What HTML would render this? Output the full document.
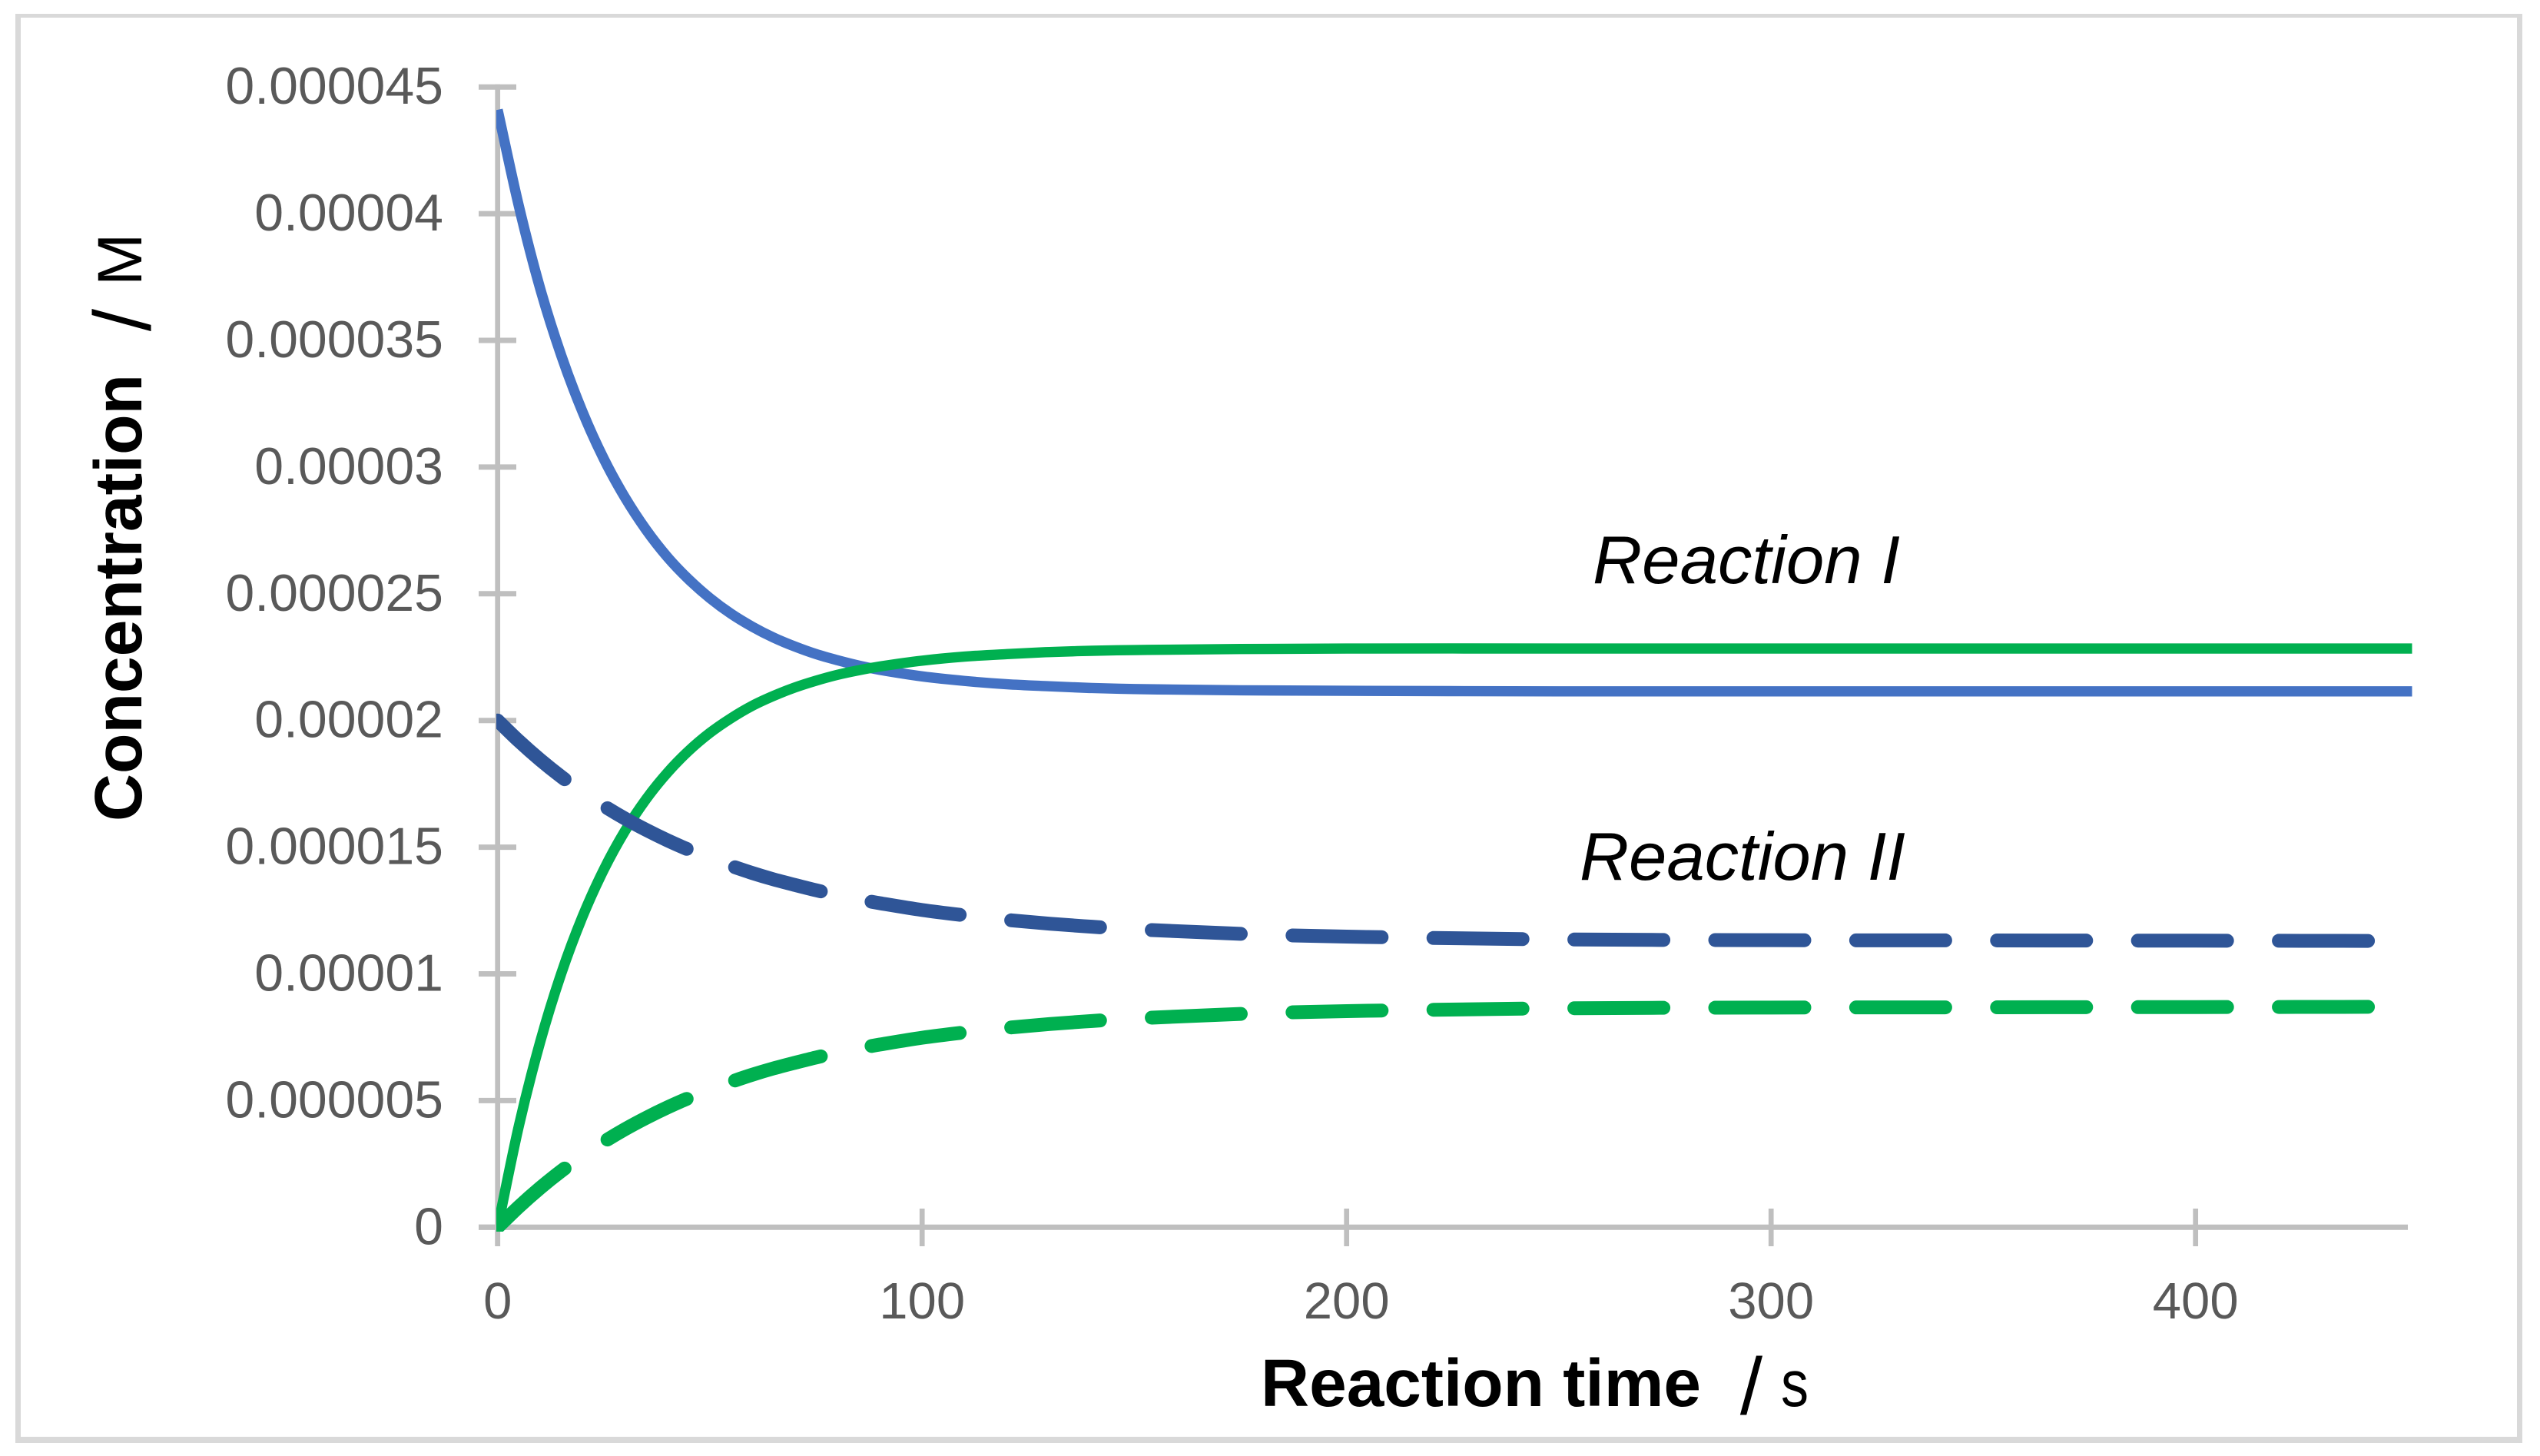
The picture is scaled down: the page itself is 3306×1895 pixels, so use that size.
<!DOCTYPE html>
<html lang="en">
<head>
<meta charset="utf-8">
<title>Reaction concentration over time</title>
<style>
  html, body { margin: 0; padding: 0; background: #ffffff; }
  svg { display: block; }
  text { font-family: "Liberation Sans", sans-serif; }
</style>
</head>
<body>
<svg id="chart" xmlns="http://www.w3.org/2000/svg" width="3306" height="1895" viewBox="0 0 3306 1895">
  <rect x="0" y="0" width="3306" height="1895" fill="#ffffff"/>
  <g fill="#d9d9d9">
    <rect x="20" y="18" width="3263" height="5"/>
    <rect x="20" y="18" width="7" height="1860"/>
    <rect x="20" y="1870" width="3263" height="8"/>
    <rect x="3276" y="18" width="7" height="1860"/>
  </g>
  <defs>
    <clipPath id="plot-clip"><rect x="646" y="140" width="2500" height="1463"/></clipPath>
  </defs>
  <g id="axes"></g>
  <g id="series" clip-path="url(#plot-clip)" fill="none"></g>

  <text x="1641" y="1830" font-size="87" font-weight="700" textLength="573" lengthAdjust="spacingAndGlyphs" fill="#000000">Reaction time</text>
  <text x="2279.5" y="1840.5" font-size="105" font-weight="300" text-anchor="middle" fill="#000000">/</text>
  <text x="2318" y="1830" font-size="85" textLength="36" lengthAdjust="spacingAndGlyphs" fill="#000000">s</text>

  <text transform="translate(184,1069) rotate(-90)" font-size="87" font-weight="700" textLength="582" lengthAdjust="spacingAndGlyphs" fill="#000000">Concentration</text>
  <text transform="translate(195.5,416.5) rotate(-90)" font-size="105" text-anchor="middle" fill="#000000">/</text>
  <text transform="translate(184,372) rotate(-90)" font-size="82" fill="#000000">M</text>

  <text x="2073" y="759" font-size="88" font-style="italic" textLength="400" lengthAdjust="spacingAndGlyphs" fill="#000000">Reaction I</text>
  <text x="2056" y="1145" font-size="88" font-style="italic" textLength="424" lengthAdjust="spacingAndGlyphs" fill="#000000">Reaction II</text>
</svg>
<script>
// Sample times in seconds
const times = [0,5,10,15,20,25,30,35,40,45,50,55,60,65,70,75,80,85,90,100,110,120,130,140,150,175,200,250,300,350,400,451];

// Concentrations in micromolar
const reactionOneBlue = [44.10,40.30,37.06,34.40,32.18,30.33,28.80,27.52,26.45,25.57,24.83,24.21,23.70,23.27,22.92,22.62,22.38,22.17,22.00,21.74,21.56,21.43,21.35,21.28,21.24,21.19,21.17,21.15,21.15,21.15,21.15,21.15];
const reactionOneGreen = [0,4.00,7.30,10.02,12.26,14.11,15.64,16.90,17.94,18.80,19.51,20.09,20.58,20.97,21.30,21.57,21.80,21.98,22.13,22.36,22.52,22.62,22.70,22.75,22.78,22.82,22.84,22.84,22.84,22.84,22.84,22.84];
const reactionTwoBlue = [20,19.19,18.45,17.78,17.18,16.63,16.13,15.68,15.27,14.90,14.56,14.26,13.98,13.73,13.51,13.30,13.11,12.94,12.79,12.52,12.31,12.13,11.98,11.86,11.76,11.58,11.47,11.36,11.33,11.32,11.31,11.30];
const reactionTwoGreen = [0,0.81,1.55,2.22,2.82,3.37,3.87,4.32,4.73,5.10,5.44,5.74,6.02,6.27,6.49,6.70,6.89,7.06,7.21,7.48,7.69,7.87,8.02,8.14,8.24,8.42,8.53,8.64,8.67,8.68,8.69,8.70];

// Axis ticks
const xTickValues = [0,100,200,300,400];
const xTickLabels = ["0","100","200","300","400"];
const yTickValues = [0,5,10,15,20,25,30,35,40,45];
const yTickLabels = ["0","0.000005","0.00001","0.000015","0.00002","0.000025","0.00003","0.000035","0.00004","0.000045"];

const SVG_NS = "http://www.w3.org/2000/svg";
const axes = document.getElementById("axes");
const seriesGroup = document.getElementById("series");

function xScale(t) { return 647.7 + t * 5.525; }
function yScale(v) { return 1597.3 - v * 32.98; }

function make(tag, attrs, parent) {
  const el = document.createElementNS(SVG_NS, tag);
  for (const k in attrs) el.setAttribute(k, attrs[k]);
  parent.appendChild(el);
  return el;
}

// Smooth path: cubic Hermite through data points, mapped through the axis functions
function curvePath(ts, vs) {
  const n = ts.length;
  const slopes = ts.map(function (t, i) {
    const a = Math.max(i - 1, 0);
    const b = Math.min(i + 1, n - 1);
    return (vs[b] - vs[a]) / (ts[b] - ts[a]);
  });
  let d = "M" + xScale(ts[0]).toFixed(2) + " " + yScale(vs[0]).toFixed(2);
  for (let i = 0; i < n - 1; i++) {
    const h = ts[i + 1] - ts[i];
    const c1t = ts[i] + h / 3;
    const c1v = vs[i] + slopes[i] * h / 3;
    const c2t = ts[i + 1] - h / 3;
    const c2v = vs[i + 1] - slopes[i + 1] * h / 3;
    d += " C" + xScale(c1t).toFixed(2) + " " + yScale(c1v).toFixed(2) +
         " " + xScale(c2t).toFixed(2) + " " + yScale(c2v).toFixed(2) +
         " " + xScale(ts[i + 1]).toFixed(2) + " " + yScale(vs[i + 1]).toFixed(2);
  }
  return d;
}

// Axis lines
const yAxisLine = make("line", { x1: xScale(0), x2: xScale(0), y1: yScale(45) - 3.5, y2: 1622, stroke: "#bfbfbf", "stroke-width": 6.7 }, axes);


const xAxisLine = make("line", { x1: 623, x2: 3134, y1: yScale(0), y2: yScale(0), stroke: "#bfbfbf", "stroke-width": 7 }, axes);



// Y ticks and labels
yTickValues.forEach(function (v, i) {
  const tick = make("line", { x1: 623, x2: 672, y1: yScale(v), y2: yScale(v), stroke: "#bfbfbf", "stroke-width": 7 }, axes);
  
  
  const label = make("text", { x: 577, y: yScale(v) + 22, "text-anchor": "end", "font-size": 68, fill: "#595959" }, axes);
  
  
  label.textContent = yTickLabels[i];
});

// X ticks and labels
xTickValues.forEach(function (t, i) {
  const tick = make("line", { x1: xScale(t), x2: xScale(t), y1: 1573, y2: 1622, stroke: "#bfbfbf", "stroke-width": 6.7 }, axes);
  
  
  const label = make("text", { x: xScale(t), y: 1716, "text-anchor": "middle", "font-size": 67, fill: "#595959" }, axes);
  
  
  label.textContent = xTickLabels[i];
});

// Series
const lineOneBlue = make("path", { d: curvePath(times, reactionOneBlue), stroke: "#4472c4", "stroke-width": 13.4 }, seriesGroup);



const lineOneGreen = make("path", { d: curvePath(times, reactionOneGreen), stroke: "#00b050", "stroke-width": 13.4 }, seriesGroup);



const lineTwoBlue = make("path", { d: curvePath(times, reactionTwoBlue), stroke: "#2f5597", "stroke-width": 18, "stroke-linecap": "round", "stroke-dasharray": "116 67.4" }, seriesGroup);



const lineTwoGreen = make("path", { d: curvePath(times, reactionTwoGreen), stroke: "#00b050", "stroke-width": 18, "stroke-linecap": "round", "stroke-dasharray": "116 67.4" }, seriesGroup);


</script>
</body>
</html>
